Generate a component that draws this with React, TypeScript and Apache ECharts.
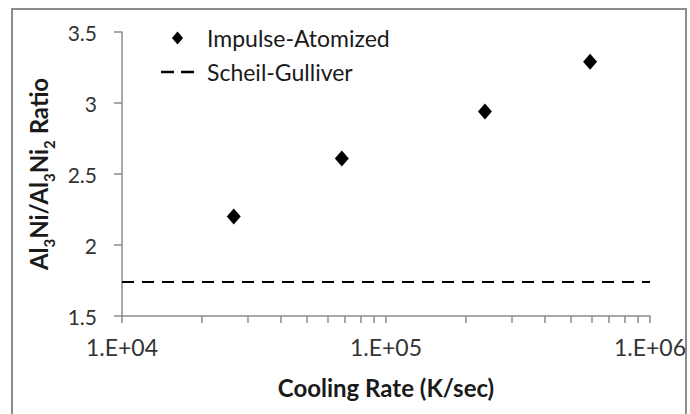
import React, { useEffect, useRef } from "react";
import * as echarts from "echarts";

const impulseRates = [26500, 68000, 237000, 593000];
const impulseRatios = [2.2, 2.61, 2.94, 3.29];
const scheilRates = [10000, 1000000];
const scheilRatios = [1.74, 1.74];
const xTickValues = [
  10000, 20000, 30000, 40000, 50000, 60000, 70000, 80000, 90000,
  100000, 200000, 300000, 400000, 500000, 600000, 700000, 800000, 900000,
  1000000,
];
const xLabelValues = [10000, 100000, 1000000];
const seriesNames = ["Impulse-Atomized", "Scheil-Gulliver"];

const FONT = "Lato, 'Open Sans', sans-serif";
const DIAMOND_ICON = "path://M6,0L12,7L6,14L0,7Z";
const DASH_ICON = "path://M0,0h13v2.5h-13zM20,0h13v2.5h-13z";

export default function App() {
  const ref = useRef<HTMLDivElement>(null);
  useEffect(() => {
    document.body.style.margin = "0";
    const chart = echarts.init(ref.current!, null, { renderer: "svg" });
    chart.setOption({
      animation: false,
      backgroundColor: "#ffffff",
      textStyle: { fontFamily: FONT },
      grid: { left: 122, right: 40, top: 32, bottom: 98 },
      graphic: [
        {
          type: "rect",
          shape: { x: 12, y: 9, width: 674, height: 420 },
          style: { fill: "none", stroke: "#8c8c8c", lineWidth: 2 },
          silent: true,
        },
      ],
      legend: {
        orient: "vertical",
        left: 161,
        top: 26,
        padding: 0,
        itemWidth: 33,
        itemHeight: 13,
        itemGap: 10,
        textStyle: {
          fontFamily: FONT,
          fontSize: 23,
          color: "#1a1a1a",
          padding: [0, 0, 0, 8],
          lineHeight: 24,
        },
        data: [
          { name: seriesNames[0], icon: DIAMOND_ICON, itemStyle: { color: "#000", opacity: 1 } },
          { name: seriesNames[1], icon: DASH_ICON, itemStyle: { color: "#000", opacity: 1 } },
        ],
      },
      xAxis: {
        type: "log",
        logBase: 10,
        min: 10000,
        max: 1000000,
        name: "Cooling Rate (K/sec)",
        nameLocation: "middle",
        nameGap: 59,
        nameTextStyle: {
          fontFamily: FONT,
          fontSize: 24,
          fontWeight: "bold",
          color: "#1a1a1a",
        },
        axisLine: { lineStyle: { color: "#8c8c8c", width: 1.5 } },
        axisTick: {
          show: true,
          customValues: xTickValues,
          length: 7,
          lineStyle: { color: "#8c8c8c", width: 1.5 },
        },
        axisLabel: {
          customValues: xLabelValues,
          margin: 19,
          fontSize: 23,
          color: "#333",
          fontFamily: FONT,
          formatter: (v: number) => {
            const e = Math.round(Math.log10(v));
            const m = v / Math.pow(10, e);
            return m.toFixed(0) + ".E+" + String(e).padStart(2, "0");
          },
        },
        splitLine: { show: false },
        minorTick: { show: false },
      },
      yAxis: {
        type: "value",
        min: 1.5,
        max: 3.5,
        interval: 0.5,
        name: "{b|Al}{s|3}{b|Ni/Al}{s|3}{b|Ni}{s|2}{b| Ratio}",
        nameLocation: "middle",
        nameGap: 59,
        nameTextStyle: {
          rich: {
            b: {
              fontFamily: FONT,
              fontSize: 24,
              fontWeight: "bold",
              color: "#1a1a1a",
              lineHeight: 30,
              verticalAlign: "top",
            },
            s: {
              fontFamily: FONT,
              fontSize: 15,
              fontWeight: "bold",
              color: "#1a1a1a",
              lineHeight: 12,
              verticalAlign: "bottom",
            },
          },
        },
        axisLine: { show: true, lineStyle: { color: "#8c8c8c", width: 1.5 } },
        axisTick: {
          show: true,
          length: 8,
          lineStyle: { color: "#8c8c8c", width: 1.5 },
        },
        axisLabel: {
          margin: 25,
          fontSize: 21,
          color: "#333",
          fontFamily: FONT,
          formatter: (v: number) => String(v),
        },
        splitLine: { show: false },
      },
      series: [
        {
          name: seriesNames[0],
          type: "scatter",
          symbol: "diamond",
          symbolSize: [14, 16],
          itemStyle: { color: "#000", opacity: 1 },
          data: impulseRates.map((x, i) => [x, impulseRatios[i]]),
        },
        {
          name: seriesNames[1],
          type: "line",
          symbol: "none",
          lineStyle: { color: "#000", width: 2, type: [12, 8] },
          itemStyle: { color: "#000" },
          data: scheilRates.map((x, i) => [x, scheilRatios[i]]),
        },
      ],
    });
    return () => chart.dispose();
  }, []);
  return <div ref={ref} style={{ width: 690, height: 414 }} />;
}
